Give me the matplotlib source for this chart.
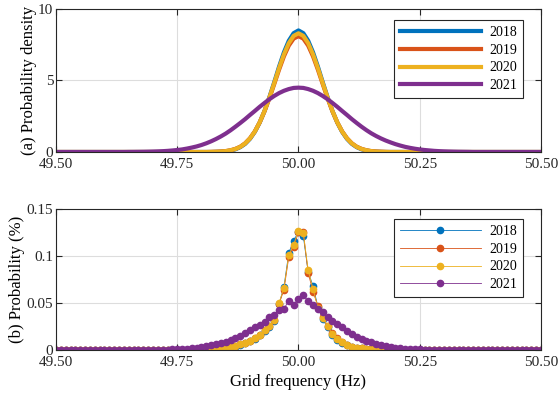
import numpy as np
import matplotlib
matplotlib.use('Agg')
import matplotlib.pyplot as plt

plt.rcParams['font.family'] = ['Liberation Serif', 'DejaVu Serif']
plt.rcParams['font.size'] = 11

# frequency grid, 0.01 Hz bins from 49.50 to 50.50
freq = np.round(np.arange(49.50, 50.505, 0.01), 2)
years = ['2018', '2019', '2020', '2021']
colores = ['#0072BD', '#D95319', '#EDB120', '#7E2F8E']

z = lambda n: [0.0] * n

# (a) densidad de probabilidad
dens_2018 = (z(33) +
    [0.01, 0.02, 0.05, 0.10, 0.19, 0.34, 0.57, 0.92, 1.41, 2.06, 2.87, 3.83, 4.88, 5.97, 6.97, 7.78, 8.31,
     8.50,
     8.31, 7.78, 6.97, 5.97, 4.88, 3.83, 2.87, 2.06, 1.41, 0.92, 0.57, 0.34, 0.19, 0.10, 0.05, 0.02, 0.01]
    + z(33))
dens_2019 = (z(32) +
    [0.008, 0.017, 0.035, 0.065, 0.12, 0.22, 0.37, 0.61, 0.96, 1.44, 2.07, 2.85, 3.76, 4.75, 5.76, 6.69, 7.44, 7.93,
     8.10,
     7.93, 7.44, 6.69, 5.76, 4.75, 3.76, 2.85, 2.07, 1.44, 0.96, 0.61, 0.37, 0.22, 0.12, 0.065, 0.035, 0.017, 0.008]
    + z(32))
dens_2020 = (z(32) +
    [0.007, 0.016, 0.03, 0.06, 0.12, 0.21, 0.36, 0.60, 0.95, 1.43, 2.07, 2.87, 3.80, 4.82, 5.87, 6.83, 7.61, 8.12,
     8.30,
     8.12, 7.61, 6.83, 5.87, 4.82, 3.80, 2.87, 2.07, 1.43, 0.95, 0.60, 0.36, 0.21, 0.12, 0.06, 0.03, 0.016, 0.007]
    + z(32))
dens_2021 = (z(15) +
    [0.005, 0.007, 0.011, 0.015, 0.022, 0.031, 0.043, 0.058, 0.079, 0.107, 0.14, 0.18, 0.24, 0.31, 0.39, 0.49,
     0.61, 0.75, 0.91, 1.09, 1.29, 1.52, 1.77, 2.03, 2.30, 2.59, 2.87, 3.16, 3.43, 3.69, 3.92, 4.12, 4.28, 4.40, 4.48,
     4.50,
     4.48, 4.40, 4.28, 4.12, 3.92, 3.69, 3.43, 3.16, 2.87, 2.59, 2.30, 2.03, 1.77, 1.53, 1.31, 1.12, 0.95, 0.80,
     0.67, 0.55, 0.45, 0.36, 0.29, 0.23, 0.18, 0.14, 0.11, 0.08, 0.06, 0.045, 0.033, 0.024, 0.017, 0.012, 0.008]
    + z(15))

# (b) probabilidad por intervalo (%)
prob_2018 = (z(28) +
    [0.0002, 0.0003, 0.0004, 0.0006, 0.0009, 0.0013, 0.0018, 0.0023, 0.0028, 0.0037, 0.0055, 0.007,
     0.0095, 0.012, 0.0155, 0.020, 0.024, 0.031, 0.049, 0.067, 0.103, 0.116,
     0.126,
     0.121, 0.083, 0.068, 0.046, 0.033, 0.024, 0.016, 0.011, 0.0075, 0.0048, 0.0033, 0.0023, 0.0016,
     0.0011, 0.0007, 0.0005, 0.0003, 0.0002]
    + z(32))
prob_2019 = (z(28) +
    [0.0002, 0.0003, 0.0005, 0.0007, 0.001, 0.0015, 0.002, 0.0025, 0.003, 0.004, 0.006, 0.0075,
     0.010, 0.0125, 0.016, 0.021, 0.025, 0.032, 0.049, 0.064, 0.099, 0.110,
     0.125,
     0.125, 0.082, 0.062, 0.047, 0.035, 0.026, 0.018, 0.013, 0.0085, 0.0055, 0.0037, 0.0026, 0.0019,
     0.0013, 0.0008, 0.0005, 0.0003, 0.0002]
    + z(32))
prob_2020 = (z(28) +
    [0.0002, 0.0003, 0.0005, 0.0007, 0.001, 0.0015, 0.002, 0.0025, 0.003, 0.004, 0.006, 0.0075,
     0.010, 0.0125, 0.016, 0.021, 0.025, 0.032, 0.050, 0.066, 0.101, 0.112,
     0.127,
     0.124, 0.085, 0.065, 0.045, 0.034, 0.025, 0.017, 0.012, 0.008, 0.005, 0.0035, 0.0025, 0.0018,
     0.0012, 0.0008, 0.0005, 0.0003, 0.0002]
    + z(32))
prob_2021 = (z(20) +
    [0.0002, 0.0003, 0.0004, 0.0005, 0.0007, 0.0009, 0.0012, 0.0015, 0.002, 0.0025, 0.003, 0.004,
     0.005, 0.006, 0.0075, 0.009, 0.011, 0.013, 0.015, 0.018, 0.021, 0.024, 0.027, 0.030, 0.035,
     0.037, 0.043, 0.044, 0.052, 0.048,
     0.054,
     0.058, 0.052, 0.048, 0.044, 0.040, 0.035, 0.031, 0.028, 0.024, 0.020, 0.017, 0.014, 0.012,
     0.010, 0.008, 0.0065, 0.0052, 0.0042, 0.0033, 0.0026, 0.002, 0.0015, 0.0011, 0.0008, 0.0006,
     0.0004, 0.0003, 0.0002, 0.0001]
    + z(21))

dens = [dens_2018, dens_2019, dens_2020, dens_2021]
prob = [prob_2018, prob_2019, prob_2020, prob_2021]

fig = plt.figure(figsize=(5.6, 3.94), dpi=100)
ax1 = fig.add_axes([0.1, 0.6142, 0.866, 0.363])
ax2 = fig.add_axes([0.1, 0.1117, 0.866, 0.358])

for y, c, lab in zip(dens, colores, years):
    ax1.plot(freq, y, color=c, lw=3, label=lab)
for y, c, lab in zip(prob, colores, years):
    ax2.plot(freq, y, color=c, lw=0.6, marker='o', ms=4.5, label=lab)

xt = [49.50, 49.75, 50.00, 50.25, 50.50]
for ax in (ax1, ax2):
    ax.set_xlim(49.5, 50.5)
    ax.set_xticks(xt)
    ax.set_xticklabels(['%.2f' % v for v in xt])
    ax.grid(True, color='#dddddd', lw=0.8)
    ax.set_axisbelow(True)
    ax.tick_params(direction='in', top=True, right=True, length=4, width=0.8,
                   colors='#262626', pad=2)
    ax.tick_params(axis='x', pad=4)
    for s in ax.spines.values():
        s.set_color('#262626')
        s.set_linewidth(0.8)

ax1.set_ylim(0, 10)
ax1.set_yticks([0, 5, 10])
ax1.set_ylabel('(a) Probability density', fontsize=12, labelpad=1)

ax2.set_ylim(0, 0.15)
ax2.set_yticks([0, 0.05, 0.1, 0.15])
ax2.set_yticklabels(['0', '0.05', '0.1', '0.15'])
ax2.set_ylabel('(b) Probability (%)', fontsize=12, labelpad=1)
ax2.set_xlabel('Grid frequency (Hz)', fontsize=12, labelpad=4)

for ax, top in ((ax1, 0.923), (ax2, 0.929)):
    leg = ax.legend(loc='upper right', bbox_to_anchor=(0.963, top), fancybox=False,
                    edgecolor='#262626', framealpha=1, fontsize=10, handlelength=5.8,
                    labelspacing=0.33, borderpad=0.45, handletextpad=0.6, borderaxespad=0)
    leg.get_frame().set_linewidth(0.8)

plt.savefig('out.png', dpi=100)
